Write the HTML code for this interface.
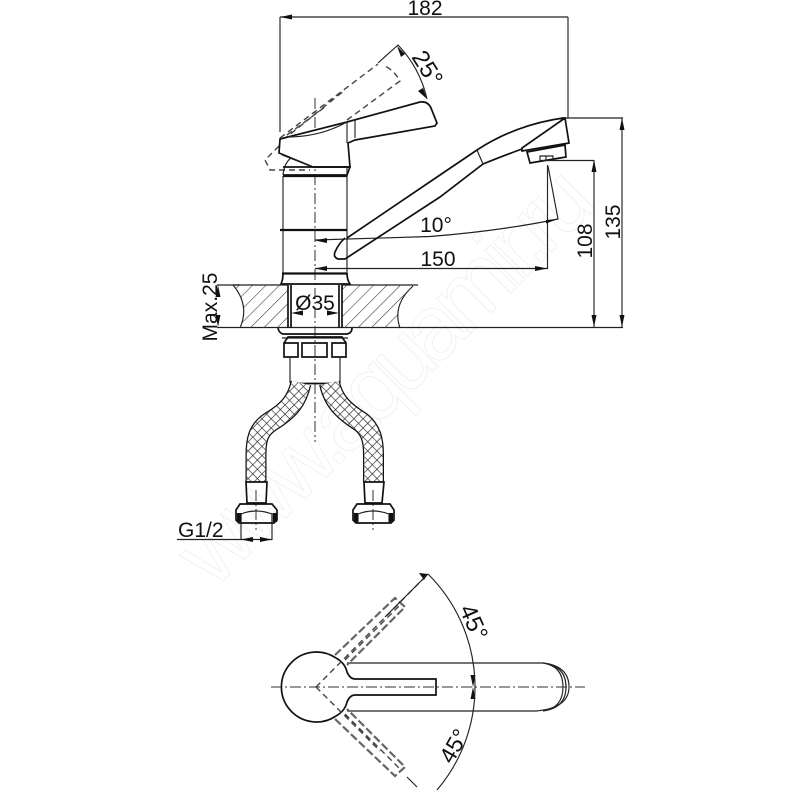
<!DOCTYPE html>
<html><head><meta charset="utf-8"><style>
html,body{margin:0;padding:0;background:#fff}
svg{display:block;filter:blur(.3px)}
text{font-family:"Liberation Sans",sans-serif;fill:#111;font-size:21px}
.l{fill:none;stroke:#222;stroke-width:1.15}
.m{fill:none;stroke:#111;stroke-width:1.7}
.b{fill:none;stroke:#111;stroke-width:2.2}
.c{fill:none;stroke:#333;stroke-width:1;stroke-dasharray:11 3 2 3}
.d{fill:none;stroke:#444;stroke-width:1.4;stroke-dasharray:6 4}
.e{fill:none;stroke:#666;stroke-width:2.2;stroke-dasharray:8 3}
.a{fill:#111;stroke:none}
.wm{font-size:92px;fill:#fff;stroke:#f1f1f1;stroke-width:1}
</style></head><body>
<svg width="800" height="800" viewBox="0 0 800 800" xmlns="http://www.w3.org/2000/svg">
<defs>
<pattern id="h" width="9.500" height="9.500" patternUnits="userSpaceOnUse" patternTransform="rotate(-45 0 0)">
<line x1="0" y1="0" x2="9.500" y2="0" stroke="#333" stroke-width="1.100"/>
</pattern>
<pattern id="x" width="6.500" height="6.500" patternUnits="userSpaceOnUse" patternTransform="rotate(45)">
<path d="M0 0H6.500M0 0V6.500" stroke="#222" stroke-width="1.300" fill="none"/>
</pattern>
</defs>

<text class="wm" x="0" y="0" transform="translate(214 590) rotate(-45)" textLength="545" lengthAdjust="spacing">www.aquamir.ru</text>

<!-- dimensions -->
<path class="l" d="M280 17H568M280 17V132M568 17V118M565 118H623M217 327.500H623M217 285H240M553 160.500H594M622 118V327M594 160V327M547.500 165V268.500H315M315 240L430 236.500Q500 231 558 219L548 166M177 539.500H272M241 513V540M272 513V540"/>
<path class="a" d="M280 17L292 14.500V19.500ZM622 118L619.500 130H624.500ZM622 327L619.500 315H624.500ZM594 160L591.500 172H596.500ZM594 327L591.500 315H596.500ZM547.500 268.500L535 266V271ZM315 268.500L327 266V271ZM315 240.500L327 238V243ZM546 220L558 219L546 223.500ZM218 285L215.500 297H220.500ZM218 327L215.500 315H220.500ZM241 539.500L253 537V542ZM272 539.500L260 537V542ZM291 313L303 310.500V315.500ZM339 313L327 310.500V315.500ZM397 46L405 54L401 57ZM427 99L418 91L423 88ZM428 574L419 573L424 580ZM473 687L470.500 675H475.500ZM473 687L470.500 699H475.500Z"/>
<text x="425" y="15" text-anchor="middle">182</text>
<text x="436" y="232" text-anchor="middle">10°</text>
<text x="438" y="266" text-anchor="middle">150</text>
<text transform="translate(620 222) rotate(-90)" text-anchor="middle">135</text>
<text transform="translate(592 241) rotate(-90)" text-anchor="middle">108</text>
<text transform="translate(217 307) rotate(-90)" text-anchor="middle">Max.25</text>
<text x="315" y="310" text-anchor="middle">Ø35</text>
<text x="178" y="537">G1/2</text>
<text transform="translate(411 57) rotate(58)" style="font-size:24px">25°</text>
<text transform="translate(459 609) rotate(66)" style="font-size:24px">45°</text>
<text transform="translate(452 765) rotate(-60)" style="font-size:23px">45°</text>

<!-- centre lines -->
<path class="c" d="M315 98V442M271 687H585M256 490V530M373 490V530"/>

<!-- handle -->
<path class="d" d="M280 138L378 64M347 120L400 81Q394 70 383 65M283 140L345 90M279 146L265 160L270 170H310M287 135L325 107"/>
<path class="l" d="M378 63L398 45Q420 68 427 99M283 175Q284 163 292 157"/>
<path class="m" style="fill:#fff" d="M280 139L347 122L420 102Q428 101 431 108L437 123L435 126L355 140L348 143L350 167H313L279 153Z"/>
<path class="l" d="M287 137Q320 137 347 122M347 122V143M355 120V138M282 155L313 167"/>

<!-- body -->
<path class="l" d="M283 176V273M347 167V273"/>
<path class="m" d="M283 167H350L347 175H283"/>
<path class="b" d="M283 176H347M280 230H347M282 273.500H347"/>
<path class="m" d="M283 273Q283 280 281 284H350Q347 280 347 273"/>

<!-- spout -->
<path class="m" d="M347 238L440 175L477 150Q515 125 563 118L565 118L569 143L522 151V148L565 118M522 149Q500 157 483 164L440 197L345 259H338Q333 257 335 252Q339 243 345 238"/>
<path class="l" d="M477 150L483 164"/>
<path class="m" d="M527 152L565 145L566 157L530 163Z"/>
<path class="l" d="M540 156H553V160.500H540ZM546 156V161"/>

<!-- counter -->
<path d="M233 285H288V328H240Q250 305 233 285Z" fill="url(#h)" stroke="none"/>
<path d="M342 285H413Q392 305 400 328H342Z" fill="url(#h)" stroke="none"/>
<path class="l" d="M233 285H288M342 285H418M233 285Q250 305 240 328M413 286Q392 305 400 328"/>
<path class="m" d="M288 285V328M291 285V328M339 285V328M342 285V328"/>

<!-- nut -->
<path class="m" d="M278 328Q279 333 283 334H347Q352 333 352 328"/>
<path class="l" d="M282 338H348"/>
<path class="m" d="M284 343H298V357H284ZM302 343H327V357H302ZM332 343H346V357H332ZM284 343L288 337H342L346 343"/>
<path class="l" d="M290 357V383M340 357V383"/>
<path class="m" d="M290 383.500H340"/>

<!-- hoses -->
<path d="M301 383C297 400 290 410 270 422C258 430 256 440 256 455V482" fill="none" stroke="#111" stroke-width="21"/>
<path d="M301 383C297 400 290 410 270 422C258 430 256 440 256 455V482" fill="none" stroke="#fff" stroke-width="18.500"/>
<path d="M301 383C297 400 290 410 270 422C258 430 256 440 256 455V482" fill="none" stroke="url(#x)" stroke-width="18.500"/>
<path d="M329.500 383C333 400 342 410 361 422C371 430 373.500 440 373.500 455V482" fill="none" stroke="#111" stroke-width="21"/>
<path d="M329.500 383C333 400 342 410 361 422C371 430 373.500 440 373.500 455V482" fill="none" stroke="#fff" stroke-width="18.500"/>
<path d="M329.500 383C333 400 342 410 361 422C371 430 373.500 440 373.500 455V482" fill="none" stroke="url(#x)" stroke-width="18.500"/>

<!-- fittings -->
<path class="m" d="M246 482H267L266 503H247ZM364 482H384L382 503H365Z"/>
<path class="m" d="M236 510L240 504H272L277 510V520L274 523H239L236 520Z"/>
<path class="m" d="M353 510L357 504H390L394 510V520L391 523H356L353 520Z"/>
<path class="l" d="M241 514Q256 508 272 514V523M241 514V523M358 514Q373 508 389 514V523M358 514V523"/>
<path class="b" d="M238 513V522M240 513V522M274 513V522M276 513V522M355 513V522M357 513V522M390 513V522M392 513V522"/>

<!-- plan view -->
<path class="m" d="M336 658A35 35 0 1 0 336 716"/>
<path class="m" d="M336 658Q345 663 347 672Q350 679 355 679H436V695H355Q350 695 347 702Q345 711 336 716"/>
<path class="l" d="M347 663H543Q569 666 569 687Q569 708 536 711H347"/>
<path class="l" d="M543 663Q566 666 566 687Q566 708 543 711M543 663Q563 666 563 687Q563 708 543 711"/>
<path class="e" d="M335 655L395 598L405 607L347 665M335 719L395 776L405 767L347 709"/>
<path class="d" d="M316 687L428 574M316 687L380 751M345 660L399 606M345 714L399 768"/>
<path class="l" d="M428 574A159 159 0 0 1 437 790M385 617L428 574M407 777L417 787"/>
</svg>
</body></html>
